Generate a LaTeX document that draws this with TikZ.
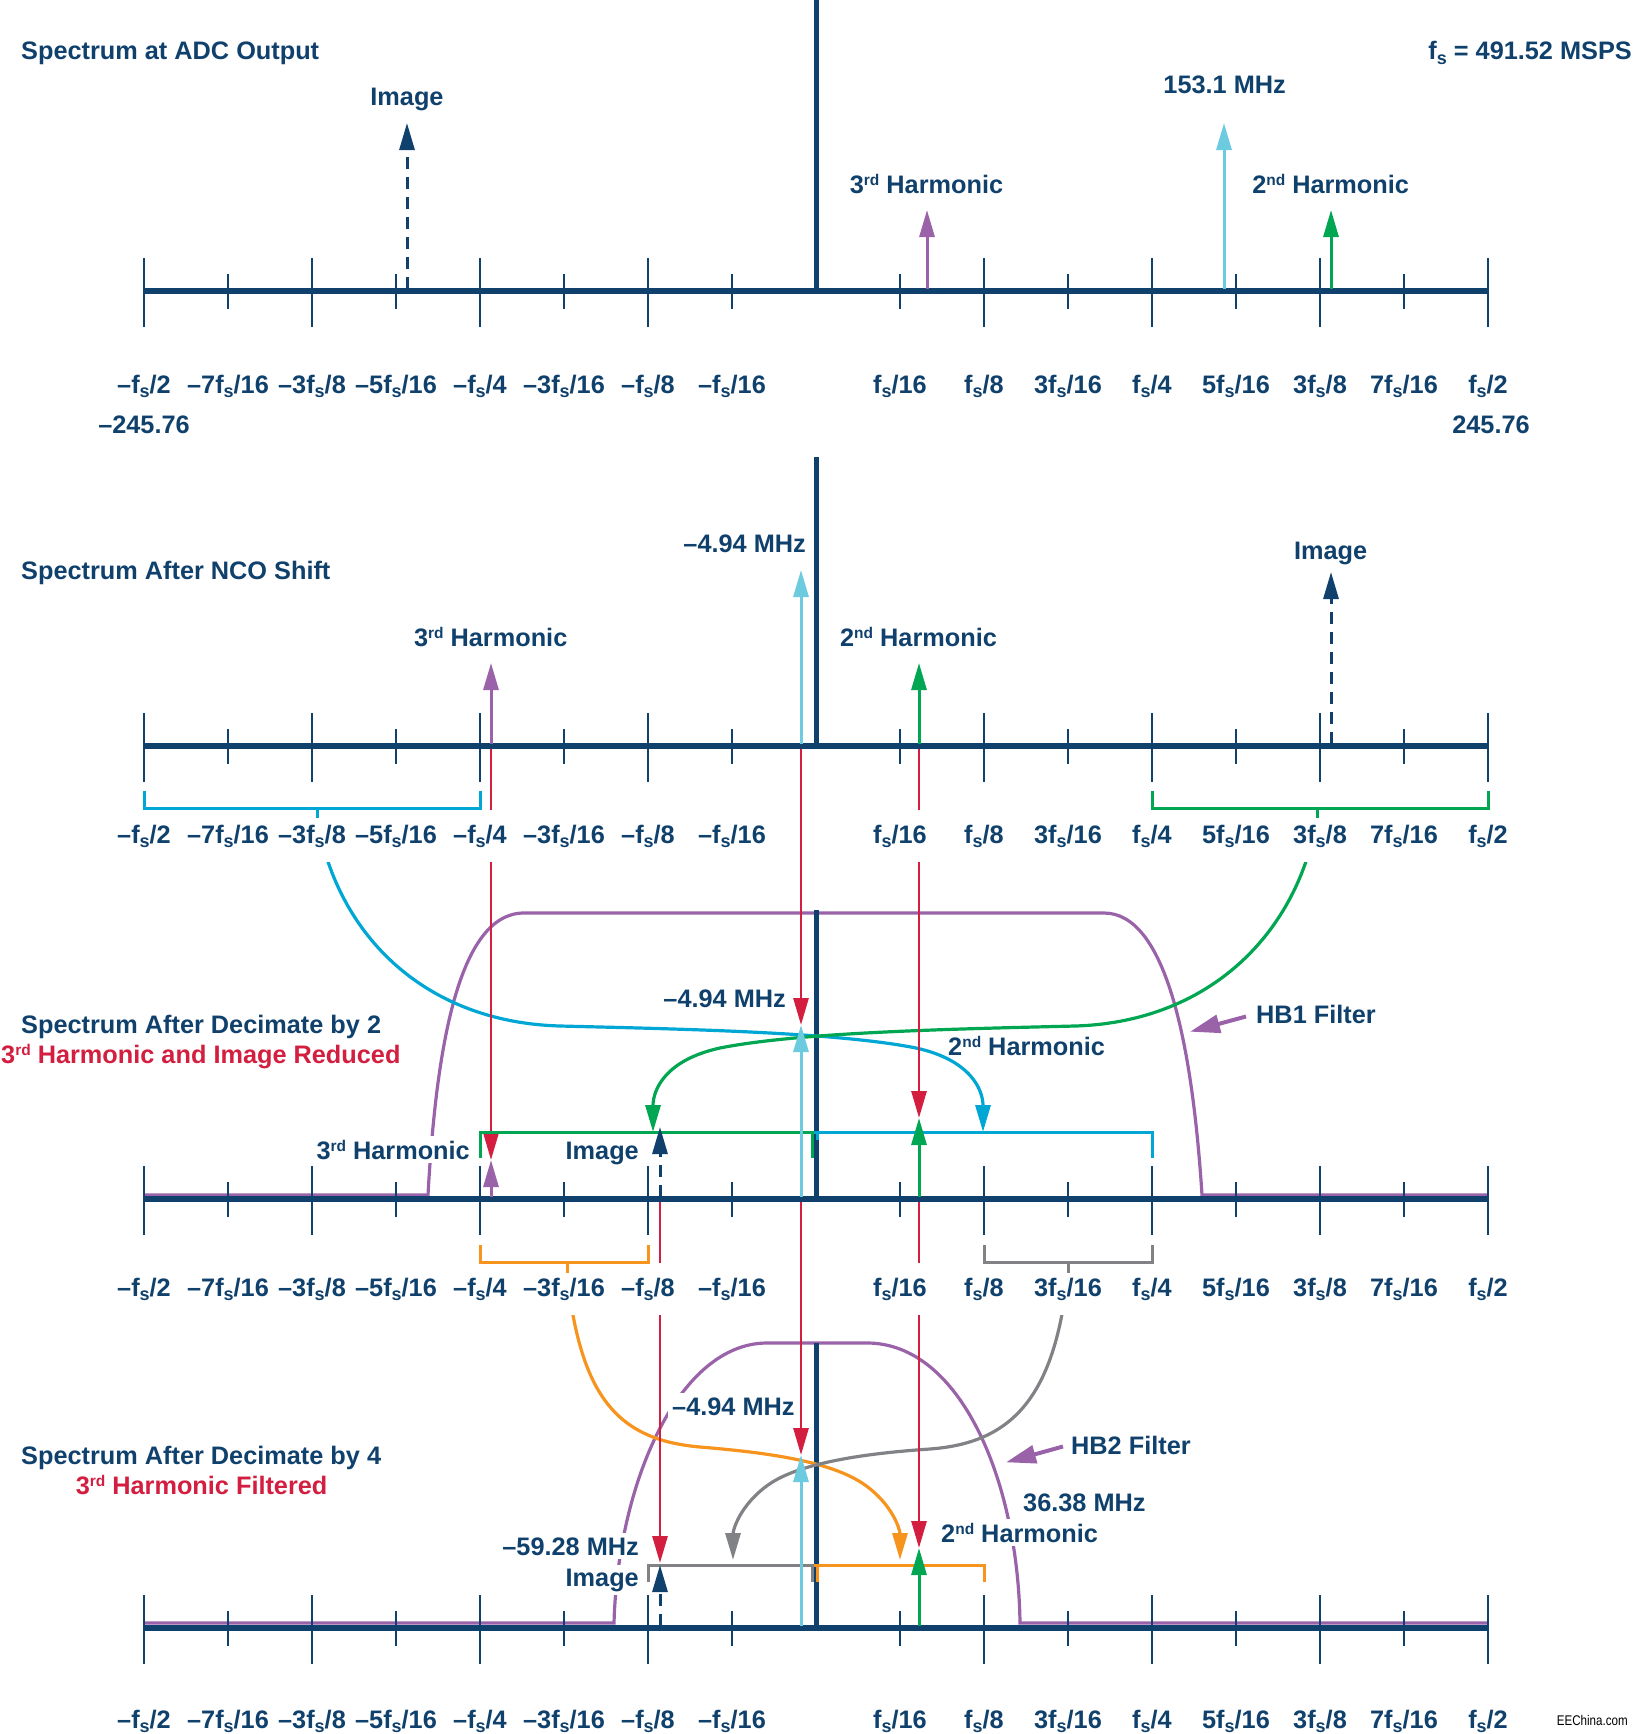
\documentclass[tikz,border=0pt]{standalone}
\usepackage{fontspec}
\usepackage{graphicx}
\setmainfont{Liberation Sans}
\usetikzlibrary{arrows.meta}
\definecolor{navy}{HTML}{10416C}
\definecolor{adred}{HTML}{D31E40}
\definecolor{adpurple}{HTML}{9A63A9}
\definecolor{adcyan}{HTML}{6CCBDF}
\definecolor{adblue}{HTML}{00A6D4}
\definecolor{adgreen}{HTML}{00A651}
\definecolor{adorange}{HTML}{F7941D}
\definecolor{adgray}{HTML}{808285}
\newcommand\fsub{f\raisebox{-4.5pt}{\fontsize{18}{18}\selectfont s}}
\newcommand\supx[1]{\raisebox{8pt}{\fontsize{15.5}{15.5}\selectfont #1}}
\newcommand\TickLabels[2]{%
 \node[ticklab] (#2a) at (144,#1) {--\fsub/2};
 \node[ticklab] (#2b) at (228,#1) {--7\fsub/16};
 \node[ticklab] (#2c) at (312,#1) {--3\fsub/8};
 \node[ticklab] (#2d) at (396,#1) {--5\fsub/16};
 \node[ticklab] (#2e) at (480,#1) {--\fsub/4};
 \node[ticklab] (#2f) at (564,#1) {--3\fsub/16};
 \node[ticklab] (#2g) at (648,#1) {--\fsub/8};
 \node[ticklab] (#2h) at (732,#1) {--\fsub/16};
 \node[ticklab] (#2i) at (900,#1) {\fsub/16};
 \node[ticklab] (#2j) at (984,#1) {\fsub/8};
 \node[ticklab] (#2k) at (1068,#1) {3\fsub/16};
 \node[ticklab] (#2l) at (1152,#1) {\fsub/4};
 \node[ticklab] (#2m) at (1236,#1) {5\fsub/16};
 \node[ticklab] (#2n) at (1320,#1) {3\fsub/8};
 \node[ticklab] (#2o) at (1404,#1) {7\fsub/16};
 \node[ticklab] (#2p) at (1488,#1) {\fsub/2};
}
\newcommand\AxisRow[1]{%
 \draw[axisline] (144,#1) -- (1488,#1);
 \foreach \k in {-8,-6,-4,-2,2,4,6,8} {\draw[majtick] (816+\k*84,#1-33) -- (816+\k*84,#1+36);}
 \foreach \k in {-7,-5,-3,-1,1,3,5,7} {\draw[majtick] (816+\k*84,#1-17) -- (816+\k*84,#1+18);}
}
\begin{document}
\begin{tikzpicture}[x=1pt,y=-1pt,
  font=\fontsize{25.3}{30}\selectfont\bfseries,
  txt/.style={text=navy, inner sep=0pt},
  boxed/.style={fill=white, inner sep=4pt},
  ticklab/.style={text=navy, fill=white, anchor=base, inner xsep=2pt, inner ysep=0pt, text height=33pt, text depth=19pt},
  axisline/.style={navy, line width=5.5pt},
  majtick/.style={navy, line width=2.6pt},
  centerline/.style={navy, line width=5pt},
  tip/.style={-{Triangle[length=27pt,width=15pt]}},
  sig/.style={line width=3pt, tip},
  dashsig/.style={navy, line width=3pt, dash pattern=on 12pt off 8pt, tip},
  redline/.style={adred, line width=2.8pt, tip},
  curve/.style={line width=3.2pt, tip},
  filter/.style={adpurple, line width=3.2pt},
  bracket/.style={line width=3pt},
  pointer/.style={adpurple, line width=4pt, -{Triangle[length=30pt,width=18pt]}},
]
\useasboundingbox (0,0) rectangle (1633,1734);

% filters
\draw[filter] (144,1195) -- (428,1195) .. controls (436,1050) and (458,913) .. (524,913) -- (1104,913) .. controls (1165,913) and (1192,1040) .. (1202,1195) -- (1488,1195);
\draw[filter] (144,1623) -- (614,1623) .. controls (618,1480) and (680,1343) .. (767,1343) -- (867,1343) .. controls (960,1343) and (1018,1480) .. (1020,1623) -- (1488,1623);

% axes
\AxisRow{291}
\AxisRow{746}
\AxisRow{1199}
\AxisRow{1628}
\draw[centerline] (816.5,0) -- (816.5,291);
\draw[centerline] (816.5,457) -- (816.5,746);
\draw[centerline] (816.5,910) -- (816.5,1199);
\draw[centerline] (816.5,1343) -- (816.5,1628);

% curves
\coordinate (bs) at (317,817);
\coordinate (be) at (983,1132);
\coordinate (gs) at (1317,817);
\coordinate (ge) at (653,1132);
\coordinate (os) at (567,1272);
\coordinate (oe) at (900,1560);
\coordinate (ys) at (1068,1272);
\coordinate (ye) at (733,1560);
\draw[curve, adblue] (bs) .. controls (335,930) and (420,1022) .. (560,1026) .. controls (680,1029) and (836,1032) .. (916,1048) .. controls (971,1060) and (983,1090) .. (be);
\draw[curve, adgreen] (gs) .. controls (1299,930) and (1212,1022) .. (1075,1026) .. controls (955,1029) and (800,1032) .. (720,1048) .. controls (665,1060) and (653,1090) .. (ge);
\draw[curve, adorange] (os) .. controls (580,1400) and (620,1440) .. (700,1447) .. controls (760,1452) and (830,1460) .. (865,1485) .. controls (893,1505) and (900,1530) .. (oe);
\draw[curve, adgray] (ys) .. controls (1055,1400) and (1010,1443) .. (930,1449) .. controls (870,1453) and (800,1462) .. (768,1485) .. controls (740,1505) and (733,1530) .. (ye);

% red lines
\draw[redline] (491,749) -- (491,1160);
\draw[redline] (801,749) -- (801,1025);
\draw[redline] (919,749) -- (919,1118);
\draw[redline] (660,1202) -- (660,1563);
\draw[redline] (801,1202) -- (801,1455);
\draw[redline] (919,1202) -- (919,1548);

% tick labels
\TickLabels{393}{r1}
\TickLabels{843}{r2}
\TickLabels{1296}{r3}
\TickLabels{1728}{r4}

% brackets
\draw[bracket, adblue] (144,791) -- (144,808) -- (480,808) -- (480,791) (317,808) -- (317,818);
\draw[bracket, adgreen] (1152,791) -- (1152,808) -- (1488,808) -- (1488,791) (1317,808) -- (1317,818);
\draw[bracket, adorange] (480,1245) -- (480,1262) -- (648,1262) -- (648,1245) (567,1262) -- (567,1273);
\draw[bracket, adgray] (984,1245) -- (984,1262) -- (1152,1262) -- (1152,1245) (1068,1262) -- (1068,1273);
\draw[bracket, adgreen] (480,1158) -- (480,1132) -- (812.5,1132) -- (812.5,1158);
\draw[bracket, adblue] (814,1132) -- (1152,1132) -- (1152,1158);
\draw[bracket, adblue] (817.5,1132) -- (817.5,1140);
\draw[bracket, adgray] (648,1582) -- (648,1565) -- (812.5,1565) -- (812.5,1582);
\draw[bracket, adorange] (814,1565) -- (984,1565) -- (984,1582);
\draw[bracket, adorange] (817.5,1565) -- (817.5,1582);

% signal arrows row 1
\draw[dashsig] (407,289) -- (407,123);
\draw[sig, adpurple] (927,289) -- (927,210);
\draw[sig, adcyan] (1224,289) -- (1224,123);
\draw[sig, adgreen] (1331,289) -- (1331,210);
% row 2
\draw[sig, adpurple] (491,744) -- (491,663);
\draw[sig, adcyan] (801,744) -- (801,570);
\draw[sig, adgreen] (919,744) -- (919,663);
\draw[dashsig] (1331,744) -- (1331,572);
% row 3
\draw[sig, adpurple] (491,1197) -- (491,1160);
\draw[sig, adcyan] (801,1197) -- (801,1025);
\draw[sig, adgreen] (919,1197) -- (919,1118);
\draw[dashsig] (660,1197) -- (660,1127);
% row 4
\draw[sig, adcyan] (801,1626) -- (801,1455);
\draw[sig, adgreen] (919,1626) -- (919,1548);
\draw[dashsig] (660,1626) -- (660,1565);

% texts row 1
\node[txt, anchor=base west] (t1) at (21,60) {Spectrum at ADC Output};
\node[txt, anchor=base east] (fsl) at (1632,60) {\fsub\ = 491.52 MSPS};
\node[txt, anchor=base] (img1) at (407,106) {Image};
\node[txt, anchor=base] (f1) at (1224.6,94) {153.1 MHz};
\node[txt, anchor=base] (h31) at (926.5,193) {3\supx{rd} Harmonic};
\node[txt, anchor=base] (h21) at (1330.6,193) {2\supx{nd} Harmonic};
\node[txt, anchor=base] (lo) at (144,433) {--245.76};
\node[txt, anchor=base] (hi) at (1491,433) {245.76};
% row 2
\node[txt, anchor=base west] (t2) at (21,579) {Spectrum After NCO Shift};
\node[txt, anchor=base east] (f2) at (806,552) {--4.94 MHz};
\node[txt, anchor=base] (h32) at (490.7,646) {3\supx{rd} Harmonic};
\node[txt, anchor=base] (h22) at (918.5,646) {2\supx{nd} Harmonic};
\node[txt, anchor=base] (img2) at (1330.7,559) {Image};
% row 3
\node[txt, anchor=base west] (t3) at (21,1033) {Spectrum After Decimate by 2};
\node[txt, text=adred, anchor=base west] (t3b) at (1,1063) {3\supx{rd} Harmonic and Image Reduced};
\node[txt, anchor=base east] (f3) at (786,1007) {--4.94 MHz};
\node[txt, boxed, anchor=base east] (h33) at (474,1159) {3\supx{rd} Harmonic};
\node[txt, anchor=base east] (img3) at (639,1159) {Image};
\node[txt, anchor=base west] (h23) at (948,1055) {2\supx{nd} Harmonic};
\node[txt, anchor=base west] (hb1) at (1256,1023) {HB1 Filter};
% row 4
\node[txt, anchor=base west] (t4) at (21,1464) {Spectrum After Decimate by 4};
\node[txt, text=adred, anchor=base] (t4b) at (201.6,1494) {3\supx{rd} Harmonic Filtered};
\node[txt, boxed, anchor=base west] (f4) at (668,1415) {--4.94 MHz};
\node[txt, boxed, anchor=base east] (f5) at (643,1555) {--59.28 MHz};
\node[txt, boxed, anchor=base east] (img4) at (643,1586) {Image};
\node[txt, anchor=base west] (hb2) at (1071,1454) {HB2 Filter};
\node[txt, anchor=base west] (f6) at (1023,1511) {36.38 MHz};
\node[txt, boxed, anchor=base west] (h24) at (937,1542) {2\supx{nd} Harmonic};
\node[anchor=base east, inner sep=0pt, text=black] (ee) at (1628,1725) {\fontsize{14}{14}\selectfont\mdseries\scalebox{0.83}[1]{EEChina.com}};

% pointers
\coordinate (p1) at (1190,1031.7);
\coordinate (p2) at (1006,1462.3);
\draw[pointer] (1246,1016.5) -- (p1);
\draw[pointer] (1063,1446.5) -- (p2);
\end{tikzpicture}
\end{document}
